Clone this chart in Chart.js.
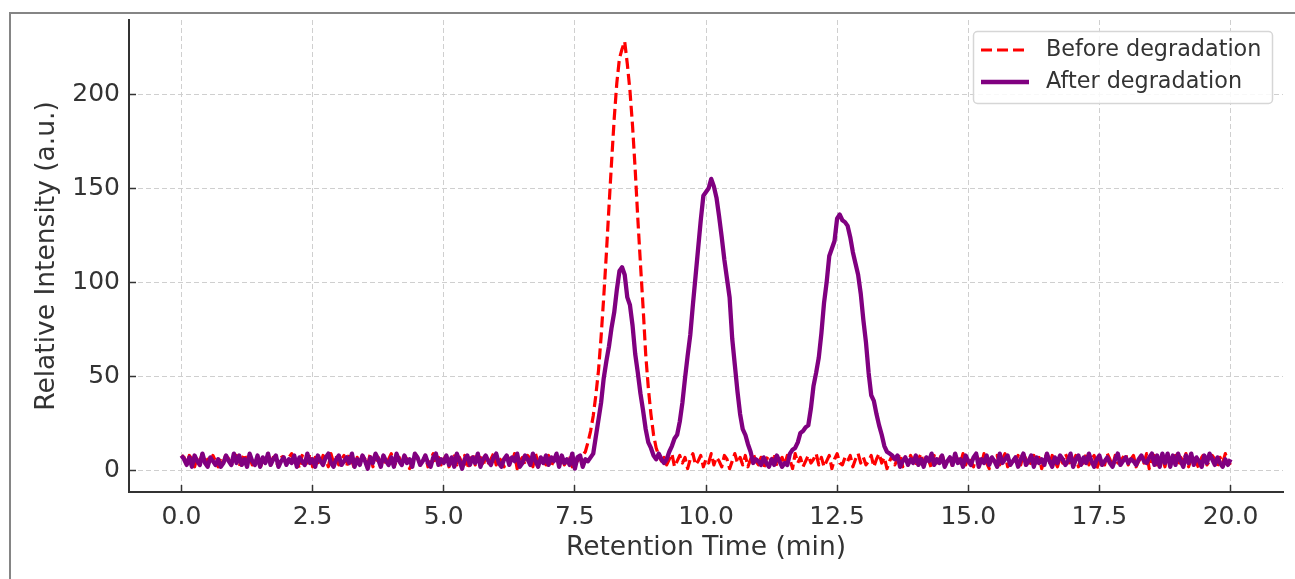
<!DOCTYPE html>
<html><head><meta charset="utf-8">
<script src="https://cdn.jsdelivr.net/npm/chart.js@4.4.1/dist/chart.umd.min.js"></script>
<style>
html,body{margin:0;padding:0;background:#fff;overflow:hidden}
#wrap{position:relative;width:1295px;height:579px}
#frame{position:absolute;left:9px;top:12px;width:1300px;height:600px;border-left:2px solid #858585;border-top:2px solid #858585;pointer-events:none}
canvas{display:block}
</style></head><body>
<div id="wrap"><canvas id="c" width="1295" height="579"></canvas><div id="frame"></div></div>
<script>
// Relative intensity sampled every 0.05 min from 0.00 to 20.00 (one row = one minute)
const beforeDegradation = [
  8,7,3,8,6,2,7,5,9,4,6,3,8,5,2,7,4,9,6,3,
  5,8,2,6,9,4,7,3,5,8,1,6,4,9,3,7,5,2,8,6,
  4,7,9,3,5,1,8,6,4,9,2,7,5,3,8,6,2,9,4,7,
  3,6,8,2,9,5,1,7,4,8,6,3,9,2,5,7,4,8,3,6,
  9,2,5,7,3,8,6,1,4,9,7,3,5,8,2,6,9,4,7,3,
  6,8,2,5,9,3,7,4,8,1,6,9,3,5,7,2,8,4,6,9,
  3,7,5,2,8,6,4,9,1,5,7,3,8,6,2,9,4,7,5,3,
  8,2,6,9,4,7,3,5,8,2,6,5,7,8,10,15,21,29,40,53,
  71,92,115,140,164,187,206,219,224,228,216,202,183,160,134,110,87,62,44,30,
  19,12,8,5,7,3,6,9,2,5,8,4,7,1,6,9,3,5,8,2,
  6,4,9,3,7,5,2,8,6,1,5,9,4,7,3,8,2,6,9,5,
  3,7,1,6,8,4,9,2,5,7,3,8,6,1,9,4,7,2,5,8,
  4,6,9,3,7,2,5,8,1,6,9,4,3,7,5,8,2,6,9,4,
  7,3,5,8,2,6,9,4,7,1,5,8,3,6,9,2,7,4,8,5,
  2,6,9,3,7,5,1,8,4,6,9,3,5,7,2,8,6,4,9,3,
  7,5,2,8,6,3,9,4,1,7,5,8,3,6,9,2,4,7,5,8,
  3,9,6,2,5,8,4,7,1,6,9,3,8,5,2,7,4,9,6,3,
  5,8,2,7,4,9,3,6,8,1,5,7,3,9,6,2,8,4,5,7,
  9,3,6,8,2,5,7,4,9,1,6,8,3,5,7,2,9,4,6,8,
  3,7,5,9,2,6,8,4,1,7,9,3,5,8,6,2,7,4,9,5,
  3
];
const afterDegradation = [
  8,6,3,7,2,8,5,3,9,4,2,7,5,3,6,2,4,8,5,3,
  9,4,8,3,6,2,9,5,3,8,2,7,4,9,3,6,8,2,5,7,
  3,6,4,8,2,7,5,3,9,4,6,2,8,5,3,7,9,4,2,6,
  8,3,5,7,4,9,2,6,3,8,5,1,7,4,9,6,2,8,5,3,
  7,2,9,5,3,8,4,6,2,9,7,3,5,8,4,2,7,9,3,6,
  4,8,3,7,2,9,5,1,6,8,3,7,4,9,2,6,8,5,3,7,
  9,4,2,6,8,3,7,5,9,2,4,8,6,3,9,5,2,7,4,8,
  3,7,5,9,2,8,4,6,3,9,1,7,8,2,6,5,7,9,18,27,
  36,49,58,66,76,84,96,106,108,104,92,88,77,62,52,41,32,22,15,12,
  8,6,9,6,4,6,10,13,17,19,26,36,49,61,72,88,103,118,133,146,
  148,150,155,151,145,135,124,112,102,92,70,56,42,30,22,19,14,10,4,6,
  5,3,7,4,2,6,3,8,5,2,4,3,9,11,12,15,20,21,23,24,
  33,45,52,60,73,89,100,114,118,122,134,136,133,132,130,124,116,110,104,94,
  80,68,52,40,37,30,24,19,13,10,9,8,6,8,2,5,7,3,6,4,
  8,3,6,2,7,5,9,3,6,4,8,2,5,7,3,9,4,6,2,8,
  5,3,7,9,2,6,4,8,3,7,5,2,9,4,6,8,3,5,7,2,
  6,9,3,5,8,2,7,4,6,3,9,5,2,7,4,8,6,3,5,9,
  2,6,8,3,7,4,9,5,2,6,8,3,5,7,4,2,6,9,3,5,
  7,4,6,5,3,6,8,5,4,7,9,3,8,2,9,4,9,2,8,3,
  9,5,2,8,4,9,3,7,5,2,8,4,9,6,3,7,4,2,6,3,
  6
];
const seriesLabels = ['Before degradation', 'After degradation'];
const xTickValues = [0, 2.5, 5, 7.5, 10, 12.5, 15, 17.5, 20];
const yTickValues = [0, 50, 100, 150, 200];
const retentionTimes = afterDegradation.map((_, i) => +(i * 0.05).toFixed(2));

const FONT = 'DejaVu Sans';
const TEXT = '#333333';

const legendBox = {
  id: 'legendBox',
  afterDatasetsDraw(chart) {
    const {ctx, chartArea} = chart;
    const w = 299, h = 72;
    const right = chartArea.right - 11, top = chartArea.top + 11;
    const left = right - w;
    ctx.save();
    ctx.beginPath();
    ctx.roundRect(left + 0.5, top + 0.5, w, h, 4);
    ctx.fillStyle = 'rgba(255,255,255,0.85)';
    ctx.fill();
    ctx.strokeStyle = '#d6d6d6';
    ctx.lineWidth = 1.5;
    ctx.stroke();
    chart.data.datasets.forEach((ds, i) => {
      const y = top + 19 + i * 32;
      ctx.beginPath();
      ctx.setLineDash(ds.borderDash || []);
      ctx.strokeStyle = ds.borderColor;
      ctx.lineWidth = ds.borderWidth;
      ctx.lineCap = 'butt';
      ctx.moveTo(left + 8, y);
      ctx.lineTo(left + 56, y);
      ctx.stroke();
      ctx.setLineDash([]);
      ctx.fillStyle = TEXT;
      ctx.font = '22.3px "' + FONT + '"';
      ctx.textBaseline = 'middle';
      ctx.textAlign = 'left';
      ctx.fillText(ds.label, left + 73, y);
    });
    ctx.restore();
  }
};

new Chart(document.getElementById('c'), {
  type: 'line',
  data: {
    labels: retentionTimes,
    datasets: [
      {
        label: seriesLabels[0],
        data: beforeDegradation,
        borderColor: '#ff0000',
        borderWidth: 3.2,
        borderDash: [11, 5],
        borderJoinStyle: 'round',
        pointRadius: 0,
        fill: false,
        order: 1
      },
      {
        label: seriesLabels[1],
        data: afterDegradation,
        borderColor: '#800080',
        borderWidth: 4.3,
        borderJoinStyle: 'round',
        pointRadius: 0,
        fill: false,
        order: 0
      }
    ]
  },
  options: {
    responsive: false,
    animation: false,
    layout: {padding: {top: 20, right: 12, left: 0, bottom: 0}},
    plugins: {legend: {display: false}, tooltip: {enabled: false}},
    elements: {line: {tension: 0}, point: {radius: 0}},
    scales: {
      x: {
        type: 'linear',
        min: -1,
        max: 21,
        afterBuildTicks: s => { s.ticks = xTickValues.map(v => ({value: v})); },
        afterFit: s => { s.height = 87; s.paddingLeft = 0; s.paddingRight = 0; },
        grid: {color: '#cfcfcf', lineWidth: 1, drawTicks: true, tickLength: -7, tickColor: '#333333', tickWidth: 1.5},
        border: {display: true, color: '#333333', width: 2, dash: [5, 3]},
        ticks: {padding: 17, color: TEXT, font: {family: FONT, size: 25}, maxRotation: 0, autoSkip: false,
                callback: v => Number(v).toFixed(1)},
        title: {display: true, text: 'Retention Time (min)', color: TEXT, font: {family: FONT, size: 26.5},
                padding: {top: 0, bottom: 15}}
      },
      y: {
        type: 'linear',
        min: -11.4,
        max: 239.4,
        afterBuildTicks: s => { s.ticks = yTickValues.map(v => ({value: v})); },
        afterFit: s => { s.width = 129; s.paddingTop = 0; s.paddingBottom = 0; },
        grid: {color: '#cfcfcf', lineWidth: 1, drawTicks: true, tickLength: -7, tickColor: '#333333', tickWidth: 1.5},
        border: {display: true, color: '#333333', width: 2, dash: [5, 3]},
        ticks: {padding: 16, color: TEXT, font: {family: FONT, size: 25}, autoSkip: false,
                callback: v => String(v)},
        title: {display: true, text: 'Relative Intensity (a.u.)', color: TEXT, font: {family: FONT, size: 26.5},
                padding: {top: 31.7, bottom: 0}}
      }
    }
  },
  plugins: [legendBox]
});
</script>
</body></html>
